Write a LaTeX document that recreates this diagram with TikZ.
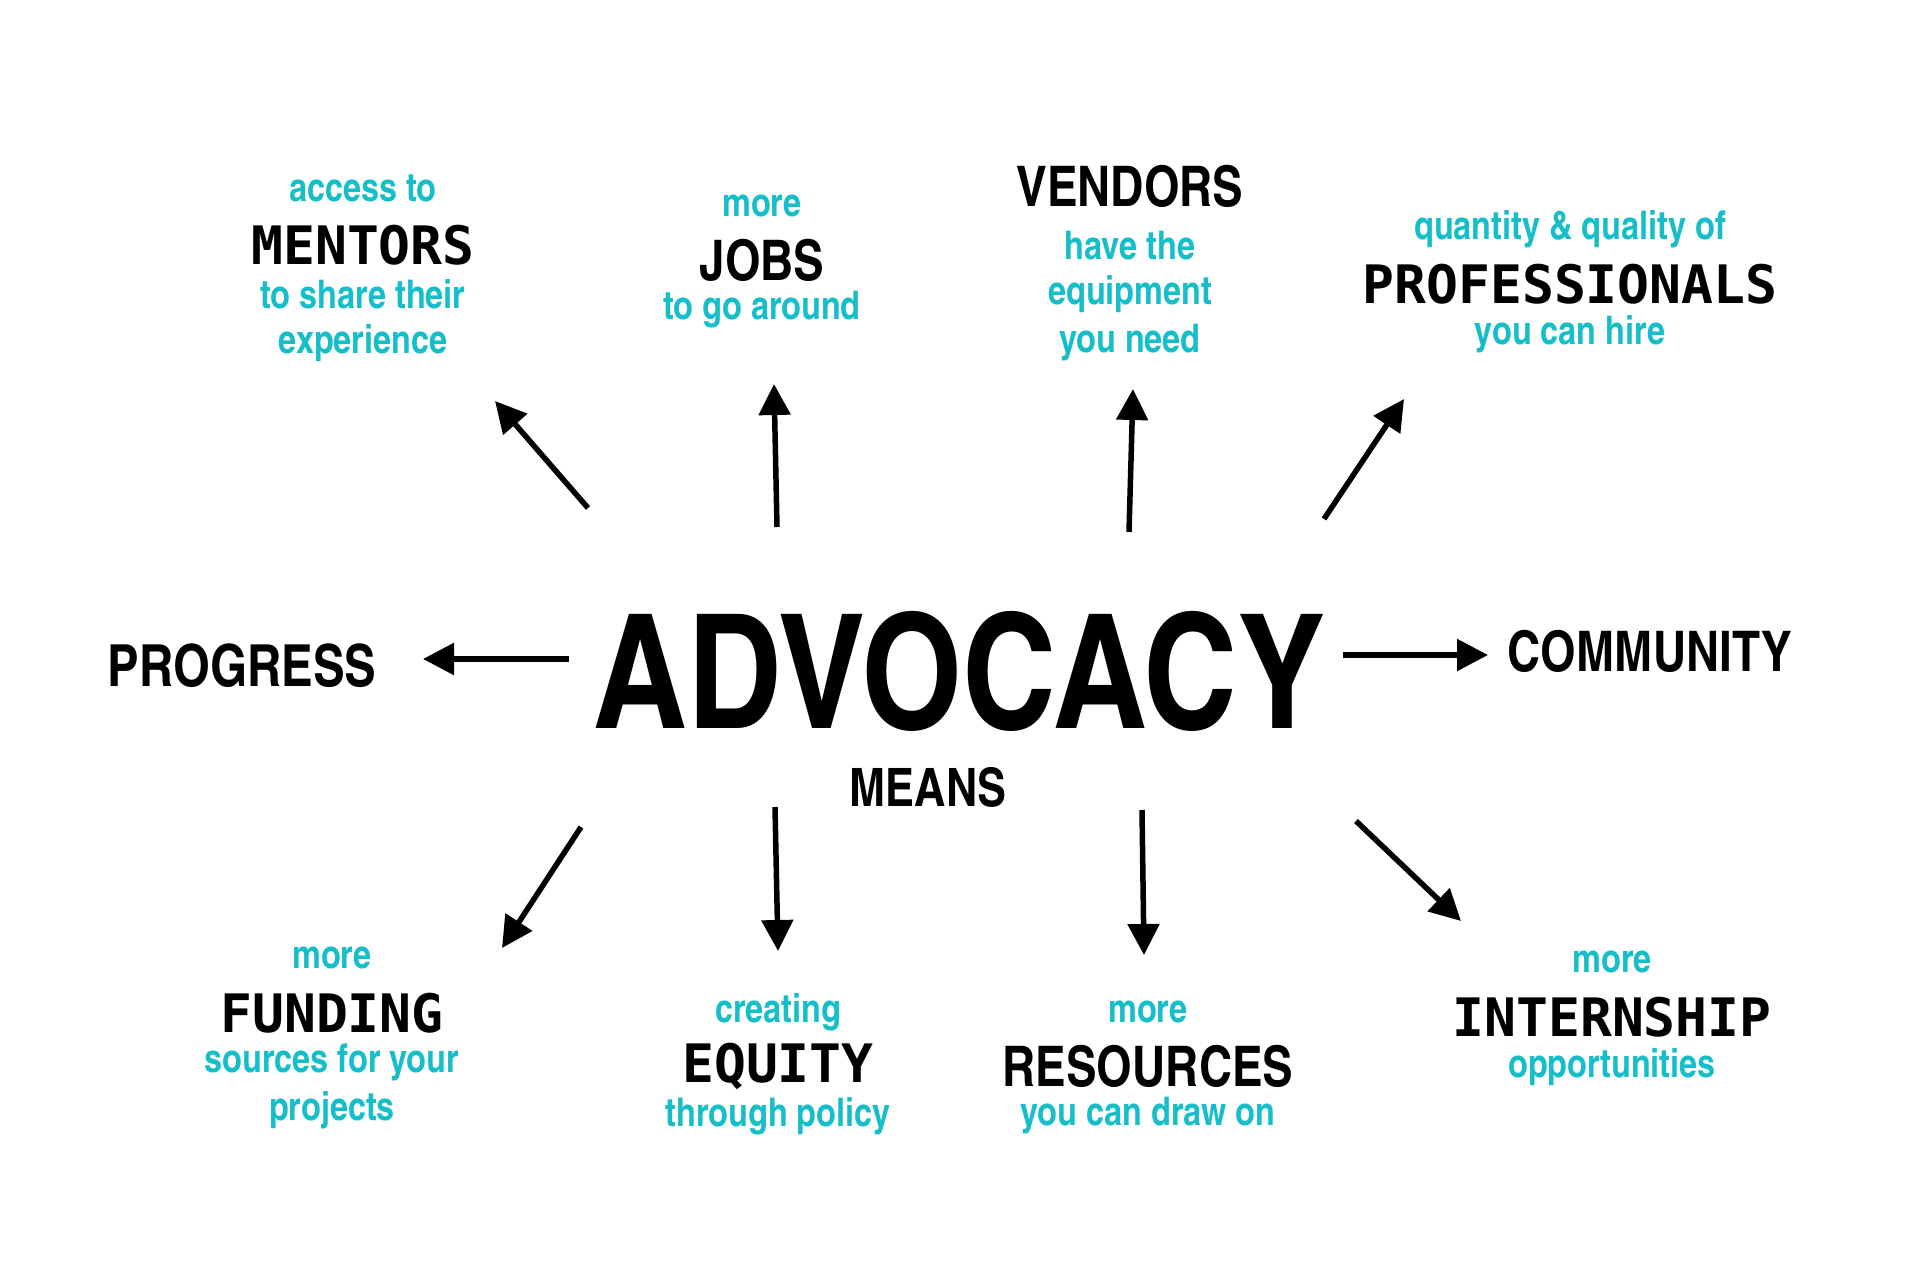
\documentclass[tikz,border=0pt]{standalone}
\usepackage{fontspec}
\usetikzlibrary{arrows.meta}
\setmainfont{Liberation Sans}
\newfontfamily\cond{texgyreheroscn-bold.otf}
\newfontfamily\monof{DejaVu Sans Mono}
\definecolor{cyanC}{RGB}{22,190,202}
\tikzset{
  cy/.style={text=cyanC, font=\cond\fontsize{39.5}{40}\selectfont, inner sep=0pt},
  bk/.style={text=black, font=\cond\fontsize{56}{56}\selectfont, inner sep=0pt},
  mk/.style={text=black, font=\monof\bfseries\fontsize{53}{53}\selectfont, inner sep=0pt},
  big/.style={text=black, font=\cond\fontsize{159}{159}\selectfont, inner sep=0pt},
  arr/.style={line width=5.5pt, -{Triangle[length=31pt,width=31pt]}}
}
\begin{document}
\begin{tikzpicture}[x=1pt,y=-1pt]
\useasboundingbox (0,0) rectangle (1920,1285);
\fill[white] (0,0) rectangle (1920,1285);

% centre
\node[big] (adv) at (959,671) {ADVOCACY};
\node[bk, font=\cond\fontsize{53}{53}\selectfont] (means) at (928,787) {MEANS};

% mentors
\node[cy] (m1) at (363,188) {access to};
\node[mk] (m2) at (363,245) {MENTORS};
\node[cy] (m3) at (363,294) {to share their};
\node[cy] (m4) at (363,343) {experience};
% jobs
\node[cy] (j1) at (762,206) {more};
\node[bk] (j2) at (762,260) {JOBS};
\node[cy] (j3) at (762,310) {to go around};
% vendors
\node[bk] (v1) at (1130,186) {VENDORS};
\node[cy] (v2) at (1130,246) {have the};
\node[cy] (v3) at (1130,294) {equipment};
\node[cy] (v4) at (1130,343) {you need};
% professionals
\node[cy] (p1) at (1570,229) {quantity \& quality of};
\node[mk] (p2) at (1570,284) {PROFESSIONALS};
\node[cy] (p3) at (1570,334) {you can hire};
% progress / community
\node[bk, font=\cond\fontsize{58}{58}\selectfont] (prog) at (242,666) {PROGRESS};
\node[bk] (comm) at (1650,651) {COMMUNITY};
% funding
\node[cy] (f1) at (332,958) {more};
\node[mk] (f2) at (332,1013) {FUNDING};
\node[cy] (f3) at (332,1062) {sources for your};
\node[cy] (f4) at (332,1110) {projects};
% equity
\node[cy] (e1) at (778,1012) {creating};
\node[mk] (e2) at (778,1066) {EQUITY};
\node[cy] (e3) at (778,1116) {through policy};
% resources
\node[cy] (r1) at (1148,1012) {more};
\node[bk] (r2) at (1148,1066) {RESOURCES};
\node[cy] (r3) at (1148,1116) {you can draw on};
% internship
\node[cy] (i1) at (1612,962) {more};
\node[mk] (i2) at (1612,1017) {INTERNSHIP};
\node[cy] (i3) at (1612,1067) {opportunities};

% arrow end points
\coordinate (aM0) at (588,508);  \coordinate (aM1) at (495,401);
\coordinate (aJ0) at (777,527);  \coordinate (aJ1) at (774,384);
\coordinate (aV0) at (1129,532); \coordinate (aV1) at (1133,389);
\coordinate (aP0) at (1324,519); \coordinate (aP1) at (1404,399);
\coordinate (aG0) at (569,659);  \coordinate (aG1) at (423,659);
\coordinate (aC0) at (1343,655); \coordinate (aC1) at (1488,655);
\coordinate (aF0) at (581,827);  \coordinate (aF1) at (502,948);
\coordinate (aE0) at (775,807);  \coordinate (aE1) at (778,951);
\coordinate (aR0) at (1142,810); \coordinate (aR1) at (1144,955);
\coordinate (aI0) at (1356,821); \coordinate (aI1) at (1461,921);

\foreach \k in {M,J,V,P,G,C,F,E,R,I}{
  \draw[arr] (a\k0) -- (a\k1);
}
\end{tikzpicture}
\end{document}
